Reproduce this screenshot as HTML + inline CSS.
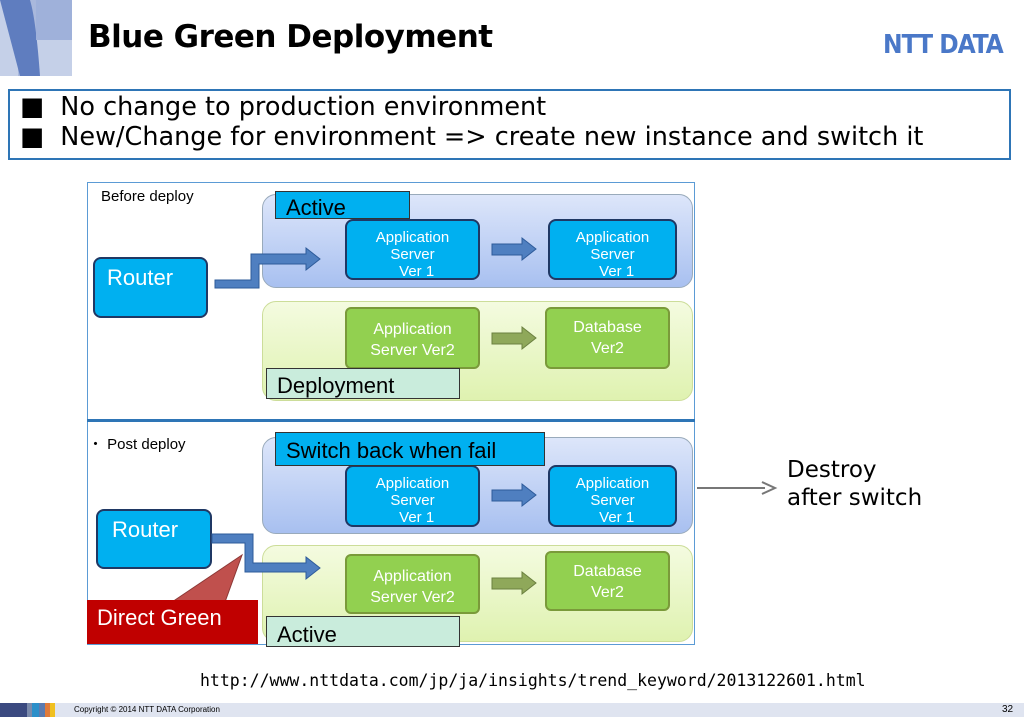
<!DOCTYPE html>
<html><head><meta charset="utf-8"><style>
*{margin:0;padding:0;box-sizing:border-box}
body{width:1024px;height:724px;background:#fff;position:relative;overflow:hidden;font-family:"Liberation Sans",sans-serif}
.a{position:absolute}
.lbl{position:absolute;font-size:22px;color:#000;padding-left:10px;border:1px solid #333}
.srv{position:absolute;background:#00b0f0;border:2px solid #1f3864;border-radius:8px;color:#fff;font-size:15px;text-align:center;line-height:17px;padding-top:8px}
.grn{position:absolute;background:#92d050;border:2px solid #7a9a3a;border-radius:6px;color:#fff;font-size:16px;text-align:center;line-height:21px;padding-top:10px}
</style></head><body>
<svg class="a" style="left:0;top:0" width="72" height="76">
<rect width="72" height="76" fill="#c5d0e8"/>
<rect x="18" y="0" width="18" height="76" fill="#a9b8dc"/>
<path d="M0 0 L30 0 Q36 20 40 76 L20 76 Z" fill="#5f7dbf"/>
<rect x="36" y="0" width="36" height="40" fill="#9fb1da"/>
</svg>
<div class="a" style="left:88px;top:19px;font-size:31px;font-weight:bold;font-family:'DejaVu Sans',sans-serif;letter-spacing:-0.5px">Blue Green Deployment</div>
<div class="a" style="left:883px;top:30px;font-size:26px;font-weight:bold;color:#4a78c8;letter-spacing:-1px;font-family:'DejaVu Sans Condensed','DejaVu Sans',sans-serif">NTT DATA</div>
<div class="a" style="left:8px;top:89px;width:1003px;height:71px;border:2px solid #2e75b6"></div>
<div class="a" style="left:20px;top:92px;font-size:25.5px;line-height:30px;font-family:'DejaVu Sans',sans-serif">&#9632;&nbsp; No change to production environment<br>&#9632;&nbsp; New/Change for environment =&gt; create new instance and switch it</div>
<div class="a" style="left:87px;top:182px;width:608px;height:463px;border:1px solid #5b9bd5"></div>
<div class="a" style="left:87px;top:419px;width:608px;height:3px;background:#2e75b6"></div>
<div class="a" style="left:101px;top:188px;font-size:15px">Before deploy</div>
<div class="a" style="left:88px;top:433px;font-size:15px">・ Post deploy</div>
<div class="a" style="left:262px;top:194px;width:431px;height:94px;border-radius:14px;background:linear-gradient(#dde6fa,#a8c0f0);border:1px solid #9ab"></div>
<div class="a" style="left:262px;top:301px;width:431px;height:100px;border-radius:14px;background:linear-gradient(#f4fbe0,#dff2b0);border:1px solid #cd9"></div>
<div class="a" style="left:262px;top:437px;width:431px;height:97px;border-radius:14px;background:linear-gradient(#dde6fa,#a8c0f0);border:1px solid #9ab"></div>
<div class="a" style="left:262px;top:545px;width:431px;height:97px;border-radius:14px;background:linear-gradient(#f4fbe0,#dff2b0);border:1px solid #cd9"></div>
<div class="srv" style="left:93px;top:257px;width:115px;height:61px;font-size:22px;text-align:left;padding:10px 0 0 12px">Router</div>
<div class="srv" style="left:96px;top:509px;width:116px;height:60px;font-size:22px;text-align:left;padding:10px 0 0 14px">Router</div>
<div class="srv" style="left:345px;top:219px;width:135px;height:61px">Application<br>Server<br>&nbsp;&nbsp;Ver 1</div>
<div class="srv" style="left:548px;top:219px;width:129px;height:61px">Application<br>Server<br>&nbsp;&nbsp;Ver 1</div>
<div class="srv" style="left:345px;top:465px;width:135px;height:62px">Application<br>Server<br>&nbsp;&nbsp;Ver 1</div>
<div class="srv" style="left:548px;top:465px;width:129px;height:62px">Application<br>Server<br>&nbsp;&nbsp;Ver 1</div>
<div class="grn" style="left:345px;top:307px;width:135px;height:62px">Application<br>Server Ver2</div>
<div class="grn" style="left:545px;top:307px;width:125px;height:62px;padding-top:8px">Database<br>Ver2</div>
<div class="grn" style="left:345px;top:554px;width:135px;height:60px">Application<br>Server Ver2</div>
<div class="grn" style="left:545px;top:551px;width:125px;height:60px;padding-top:8px">Database<br>Ver2</div>
<svg class="a" style="left:0;top:0" width="1024" height="724">
<g fill="#4f7fc0" stroke="#2e5b9a" stroke-width="1">
<path d="M215 280 L251 280 L251 254 L306 254 L306 248 L320 259 L306 270 L306 264 L259 264 L259 288 L215 288 Z"/>
<path d="M492 244 L522 244 L522 238 L536 249 L522 260 L522 255 L492 255 Z"/>
<path d="M492 490 L522 490 L522 484 L536 495 L522 506 L522 501 L492 501 Z"/>
<path d="M212 534 L253 534 L253 563 L306 563 L306 557 L320 568 L306 579 L306 572 L245 572 L245 543 L212 543 Z"/>
</g>
<g fill="#8fa85a" stroke="#6b8040">
<path d="M492 333 L522 333 L522 327 L536 338 L522 349 L522 344 L492 344 Z"/>
<path d="M492 578 L522 578 L522 572 L536 583 L522 594 L522 589 L492 589 Z"/>
</g>
<path d="M172 602 L242 555 L225 602 Z" fill="#c0504d" stroke="#8c3836"/>
<path d="M697 488 L765 488" stroke="#777" stroke-width="2"/>
<path d="M762 482 L775 488 L762 494" fill="none" stroke="#777" stroke-width="2"/>
</svg>
<div class="lbl" style="left:275px;top:191px;width:135px;height:28px;background:#00b0f0;line-height:32px">Active</div>
<div class="lbl" style="left:266px;top:368px;width:194px;height:31px;background:#c9ecdc;line-height:34px">Deployment</div>
<div class="lbl" style="left:275px;top:432px;width:270px;height:34px;background:#00b0f0;line-height:36px">Switch back when fail</div>
<div class="lbl" style="left:87px;top:600px;width:171px;height:44px;background:#c00000;color:#fff;border:none;line-height:36px">Direct Green</div>
<div class="lbl" style="left:266px;top:616px;width:194px;height:31px;background:#c9ecdc;line-height:36px">Active</div>
<div class="a" style="left:787px;top:456px;font-size:23px;line-height:28px;font-family:'DejaVu Sans',sans-serif">Destroy<br>after switch</div>
<div class="a" style="left:200px;top:671px;font-size:16.5px;font-family:'DejaVu Sans Mono','Liberation Mono',monospace">http://www.nttdata.com/jp/ja/insights/trend_keyword/2013122601.html</div>
<div class="a" style="left:0;top:703px;width:1024px;height:14px;background:#dfe4f0"></div>
<div class="a" style="left:0;top:703px;width:27px;height:14px;background:#3b4a80"></div>
<div class="a" style="left:27px;top:703px;width:5px;height:14px;background:#7a8aab"></div>
<div class="a" style="left:32px;top:703px;width:7px;height:14px;background:#2b8fc9"></div>
<div class="a" style="left:39px;top:703px;width:6px;height:14px;background:#5a7ab0"></div>
<div class="a" style="left:45px;top:703px;width:5px;height:14px;background:#e07a3a"></div>
<div class="a" style="left:50px;top:703px;width:5px;height:14px;background:#f0c020"></div>
<div class="a" style="left:74px;top:705px;font-size:8px">Copyright © 2014 NTT DATA Corporation</div>
<div class="a" style="left:1002px;top:704px;font-size:10px">32</div>
</body></html>
